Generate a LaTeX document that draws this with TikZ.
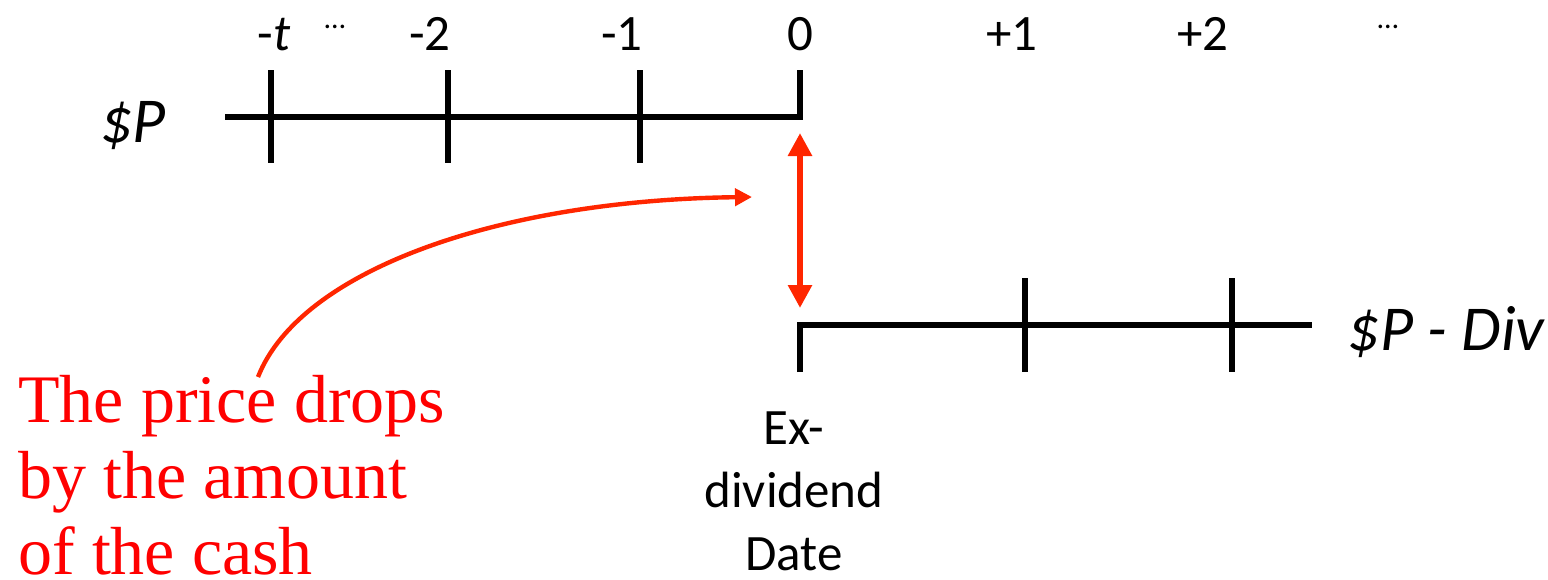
\documentclass[tikz,border=0pt]{standalone}
\usepackage{fontspec}
\setmainfont{Carlito}
\newfontfamily\notefont{Liberation Serif}
\usetikzlibrary{arrows.meta}
\definecolor{dropred}{RGB}{255,38,0}
\definecolor{notered}{RGB}{255,0,0}
\tikzset{
  axis/.style={line width=3pt,line join=miter},
  tickmark/.style={line width=3pt},
  timelabel/.style={anchor=base,inner sep=0pt,
    font=\fontsize{25.5}{30}\selectfont},
  dotslabel/.style={anchor=base,inner sep=0pt,
    font=\fontsize{15}{18}\selectfont},
  pricelabel/.style={anchor=base,inner sep=0pt,
    font=\fontsize{32}{36}\selectfont\itshape},
  datelabel/.style={anchor=north,inner sep=0pt,align=center,
    font=\fontsize{25.5}{31.5}\selectfont},
  notebox/.style={anchor=north west,inner sep=0pt,align=left,text=notered,
    font=\notefont\fontsize{34}{38}\selectfont},
  dropflow/.style={{Triangle[length=11.5pt,width=11.5pt]}-{Triangle[length=11.5pt,width=11.5pt]},
    line width=3.3pt,draw=dropred},
  flow/.style={-{Triangle[length=8.5pt,width=8.5pt]},line width=2.2pt,draw=dropred}
}

\begin{document}
\begin{tikzpicture}[x=0.5pt,y=-0.5pt]
  \useasboundingbox (0,0) rectangle (1548,579);

  \draw[axis] (225,117) -- (800,117) -- (800,70);
  \draw[axis] (800,372) -- (800,325) -- (1312,325);
  \foreach \x in {271,448,640}
    \draw[tickmark] (\x,70) -- (\x,163);
  \foreach \x in {1025,1232}
    \draw[tickmark] (\x,278) -- (\x,372);

  \node[timelabel] (tminus) at (274,50) {-\textit{t}};
  \node[dotslabel] (dotsleft) at (335,28) {\dots};
  \node[timelabel] (tm2) at (430,50) {-2};
  \node[timelabel] (tm1) at (622,50) {-1};
  \node[timelabel] (t0) at (800,50) {0};
  \node[timelabel] (tp1) at (1012,50) {+1};
  \node[timelabel] (tp2) at (1203,50) {+2};
  \node[dotslabel] (dotsright) at (1388,28) {\dots};

  \node[pricelabel] (cum) at (133,142) {\$P};
  \node[pricelabel] (ex) at (1446,350) {\$P - Div};

  \node[datelabel] (exdate) at (794,411) {Ex-\\dividend\\Date};
  \node[notebox] (note) at (18,375) {The price drops\\by the amount\\of the cash};

  \coordinate (pricetop) at (800,133);
  \coordinate (pricebot) at (800,308);
  \coordinate (curvestart) at (258,377);
  \coordinate (curvetip) at (752,197);
  \draw[dropflow] (pricetop) -- (pricebot);
  \draw[flow] (curvestart) .. controls (300,270) and (500,200) .. (curvetip);
\end{tikzpicture}
\end{document}
